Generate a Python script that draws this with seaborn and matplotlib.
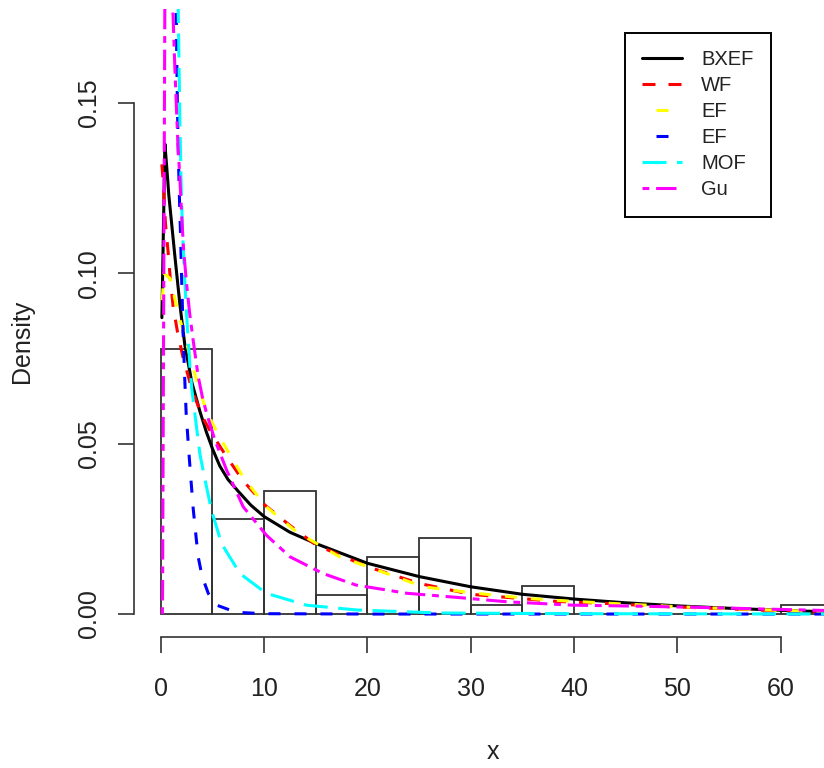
import matplotlib
matplotlib.use("Agg")
import matplotlib.pyplot as plt
import seaborn as sns
import numpy as np
import pandas as pd

# ---------------- data ----------------
bin_edges = [0, 5, 10, 15, 20, 25, 30, 35, 40, 45, 50, 55, 60, 65]
bin_counts = [28, 10, 13, 2, 6, 8, 1, 3, 0, 0, 0, 0, 1]

bxef_x = [0.1, 0.39, 0.6, 0.77, 1.0, 1.36, 1.84, 2.32, 3.0, 3.78, 4.4, 5.0, 5.7, 6.5, 7.5,
          8.7, 10, 12.5, 15, 20, 25, 30, 35, 40, 45, 50, 55, 60, 65]
bxef_y = [0.087, 0.138, 0.130, 0.123, 0.116, 0.105, 0.091, 0.079, 0.068, 0.0595, 0.0535,
          0.0485, 0.0435, 0.0395, 0.0360, 0.032, 0.0286, 0.024, 0.0207, 0.0149, 0.0110,
          0.0080, 0.0058, 0.0044, 0.0033, 0.0024, 0.0017, 0.0011, 0.0006]

wf_x = [0.1, 0.22, 0.45, 0.71, 0.94, 1.19, 1.6, 2.13, 3.0, 4.0, 4.9, 6.36, 8.0, 10.07,
        12.5, 15, 20, 25, 30, 35, 38.3, 43.2, 48, 53.4, 59.3, 65]
wf_y = [0.132, 0.127, 0.1145, 0.106, 0.0975, 0.0902, 0.083, 0.0755, 0.066, 0.058, 0.0531,
        0.0462, 0.039, 0.032, 0.026, 0.0203, 0.0139, 0.0090, 0.0058, 0.0045, 0.0037, 0.0031,
        0.0023, 0.0017, 0.0010, 0.0004]

ef1_x = [0.05, 0.3, 0.9, 1.68, 2.49, 3.45, 4.42, 5.5, 6.36, 8.0, 10.2, 13.1, 17.3, 20.5,
         25.4, 30.2, 35.1, 37.7, 45, 51.2, 58.7, 65]
ef1_y = [0.088, 0.100, 0.0985, 0.0883, 0.0795, 0.0687, 0.0595, 0.053, 0.0485, 0.040,
         0.0315, 0.0242, 0.0168, 0.0134, 0.0080, 0.0062, 0.0047, 0.0041, 0.0029, 0.0020,
         0.0012, 0.0006]

ef2_x = [1.45, 1.52, 1.6, 1.7, 1.8, 1.9, 2.0, 2.16, 2.3, 2.45, 2.7, 2.9, 3.13, 3.6, 4.0,
         4.6, 5.5, 7.3, 10, 20, 30, 40, 50, 65]
ef2_y = [0.19, 0.168, 0.150, 0.134, 0.122, 0.112, 0.100, 0.082, 0.070, 0.059, 0.048, 0.040,
         0.031, 0.017, 0.011, 0.006, 0.0025, 0.0005, 0.0001, 0.0, 0.0, 0.0, 0.0, 0.0]

mof_x = [1.6, 1.68, 1.77, 1.84, 1.95, 2.1, 2.3, 2.49, 2.81, 3.0, 3.45, 3.78, 4.1, 4.9,
         5.87, 7.65, 10.2, 14.1, 18.9, 27, 40, 65]
mof_y = [0.19, 0.177, 0.160, 0.145, 0.128, 0.112, 0.099, 0.088, 0.073, 0.066, 0.055,
         0.047, 0.042, 0.0305, 0.0207, 0.0119, 0.0061, 0.0026, 0.0012, 0.0003, 0.0001, 0.0]

gu_x = [0.15, 0.17, 0.4, 1.0, 1.19, 1.36, 1.65, 1.84, 2.0, 2.2, 2.49, 2.8, 3.1, 3.6, 4.0,
        4.42, 5.23, 6.36, 7.97, 10.2, 12.5, 15.7, 18.9, 23.8, 28.6, 33.5, 36.7, 39.9,
        46.4, 52.9, 59.3, 65]
gu_y = [0.0, 0.008, 0.19, 0.19, 0.175, 0.160, 0.138, 0.128, 0.118, 0.107, 0.097, 0.088,
        0.081, 0.070, 0.064, 0.059, 0.0511, 0.0423, 0.0315, 0.0232, 0.0168, 0.0119, 0.0085,
        0.0061, 0.0049, 0.0036, 0.0031, 0.0026, 0.0023, 0.0019, 0.0014, 0.0010]

labels = ["BXEF", "WF", "EF", "EF", "MOF", "Gu"]
x_ticks = [0, 10, 20, 30, 40, 50, 60]
y_ticks = [0.00, 0.05, 0.10, 0.15]
y_ticklabels = ["0.00", "0.05", "0.10", "0.15"]

# ---------------- styling ----------------
sns.set_theme(style="white")
plt.rcParams["font.family"] = ["Liberation Sans", "DejaVu Sans"]
plt.rcParams["lines.scale_dashes"] = False

W, H = 824, 768
fig = plt.figure(figsize=(W / 100, H / 100), dpi=100)
# plot region in pixels: left 134, right 859 (cropped by figure), top 9, bottom 637.3
ax = fig.add_axes([134 / W, 1 - 637.3 / H, 725 / W, (637.3 - 9) / H])

# histogram
centers = [(a + b) / 2 for a, b in zip(bin_edges[:-1], bin_edges[1:])]
sns.histplot(x=centers, weights=bin_counts, bins=bin_edges, stat="density",
             fill=False, element="bars", color="#333333", linewidth=1.3, ax=ax)

px = 1 / 1.389  # pixel -> point
curves = [
    (bxef_x, bxef_y, "black", "-"),
    (wf_x, wf_y, "#ff0000", (0, (13 * px, 13 * px))),
    (ef1_x, ef1_y, "#ffff00", (12 * px, (12 * px, 14 * px))),
    (ef2_x, ef2_y, "#0000ff", (12 * px, (12 * px, 14 * px))),
    (mof_x, mof_y, "#00ffff", (0, (24 * px, 10.5 * px))),
    (gu_x, gu_y, "#ff00ff", (0, (6.8 * px, 6.8 * px, 20.4 * px, 6.8 * px))),
]
handles = []
for (xs, ys, col, ls), lab in zip(curves, labels):
    df = pd.DataFrame({"x": xs, "y": ys})
    sns.lineplot(data=df, x="x", y="y", color=col, linestyle=ls, linewidth=2.2,
                 estimator=None, sort=False, ax=ax, legend=False)
    handles.append(ax.lines[-1])

ax.set_xlim(-2.6, 67.6)
ax.set_ylim(-0.00683, 0.1776)

for s in ["top", "right"]:
    ax.spines[s].set_visible(False)
for s in ["left", "bottom"]:
    ax.spines[s].set_color("#333333")
    ax.spines[s].set_linewidth(1.2)
ax.spines["left"].set_bounds(0, 0.15)
ax.spines["bottom"].set_bounds(0, 60)

ax.set_xticks(x_ticks)
ax.set_xticklabels([str(t) for t in x_ticks])
ax.set_yticks(y_ticks)
ax.set_yticklabels(y_ticklabels)
ax.tick_params(axis="both", which="major", bottom=True, left=True, top=False, right=False,
               direction="out", length=11.5, width=1.2, color="#333333",
               labelsize=18, labelcolor="#222222")
ax.tick_params(axis="x", pad=17)
ax.tick_params(axis="y", pad=12.6)
for t in ax.get_yticklabels():
    t.set_rotation(90)
    t.set_va("center")
    t.set_ha("right")
ax.set_xlabel("")
ax.set_ylabel("")
ax.grid(False)

fig.text(493 / W, 1 - 759 / H, "x", ha="center", va="baseline", fontsize=18, color="#222222")
fig.text(22 / W, 1 - 341 / H, "Density", ha="center", va="center", rotation=90,
         fontsize=18, color="#222222")

for h, lab in zip(handles, labels):
    h.set_label(lab)
leg = ax.legend(handles=handles, labels=labels, loc="upper left",
                bbox_to_anchor=(625 / W, 1 - 32.7 / H), bbox_transform=fig.transFigure,
                borderaxespad=0, fontsize=14.5, handlelength=1.99, handletextpad=0.94,
                borderpad=0.86, labelspacing=0.35, frameon=True, fancybox=False,
                edgecolor="black", framealpha=1)
leg.get_frame().set_linewidth(1.4)
for t in leg.get_texts():
    t.set_color("#222222")

fig.savefig("out.png", dpi=100)
